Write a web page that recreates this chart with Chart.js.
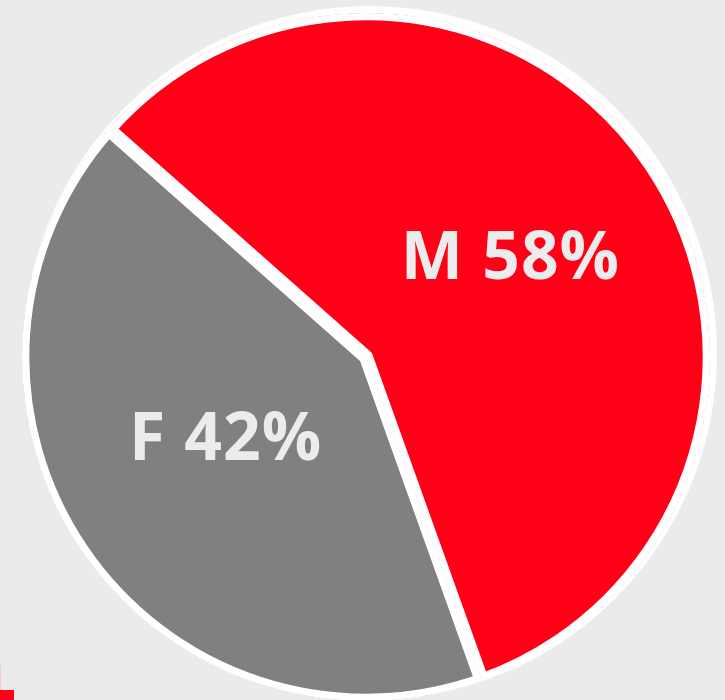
<!DOCTYPE html>
<html>
<head>
<meta charset="utf-8">
<script src="https://cdn.jsdelivr.net/npm/chart.js@4.4.1/dist/chart.umd.min.js"></script>
<style>
  html, body { margin: 0; padding: 0; background: #ebebeb; }
  #wrap { position: relative; width: 725px; height: 700px; overflow: hidden; }
  #mark { position: absolute; left: 0; top: 690px; width: 14px; height: 10px; background: #ff0017; }
  #mark-line { position: absolute; left: 0; top: 665px; width: 1px; height: 25px; background: #f3c9cd; }
</style>
</head>
<body>
<div id="wrap">
  <canvas id="pie"></canvas>
  <div id="mark-line"></div>
  <div id="mark"></div>
</div>
<script>
const categories = ["M", "F"];
const shares = [58, 42];
const colors = ["#ff0017", "#808080"];

// white disc behind the pie, shifted up-right like the original
const backDisc = {
  id: "backDisc",
  beforeDatasetsDraw(chart) {
    const arc = chart.getDatasetMeta(0).data[0];
    if (!arc) return;
    const r = arc.outerRadius + 3;
    const ctx = chart.ctx;
    ctx.save();
    ctx.fillStyle = "#ffffff";
    ctx.beginPath();
    ctx.arc(arc.x + 4, arc.y - 4, r, 0, Math.PI * 2);
    ctx.fill();
    ctx.restore();
  }
};

const sliceLabels = {
  id: "sliceLabels",
  afterDatasetsDraw(chart) {
    const ctx = chart.ctx;
    const nudgeY = [0, -12];
    ctx.save();
    ctx.fillStyle = "#ececec";
    ctx.font = "700 66px 'Open Sans'";
    ctx.letterSpacing = "1px";
    ctx.textAlign = "center";
    ctx.textBaseline = "middle";
    chart.getDatasetMeta(0).data.forEach((arc, i) => {
      const p = arc.tooltipPosition();
      ctx.fillText(`${categories[i]} ${shares[i]}%`, p.x + 2, p.y + nudgeY[i]);
    });
    ctx.restore();
  }
};

new Chart(document.getElementById("pie"), {
  type: "pie",
  data: {
    labels: categories,
    datasets: [{
      data: shares,
      backgroundColor: colors,
      borderColor: "#ffffff",
      borderWidth: 7,
      borderAlign: "inner"
    }]
  },
  options: {
    responsive: true,
    maintainAspectRatio: false,
    animation: false,
    rotation: -48.5,
    radius: 344,
    layout: { padding: { left: 7, top: 14, right: 0, bottom: 0 } },
    plugins: {
      legend: { display: false },
      tooltip: { enabled: false }
    }
  },
  plugins: [backDisc, sliceLabels]
});
</script>
</body>
</html>
